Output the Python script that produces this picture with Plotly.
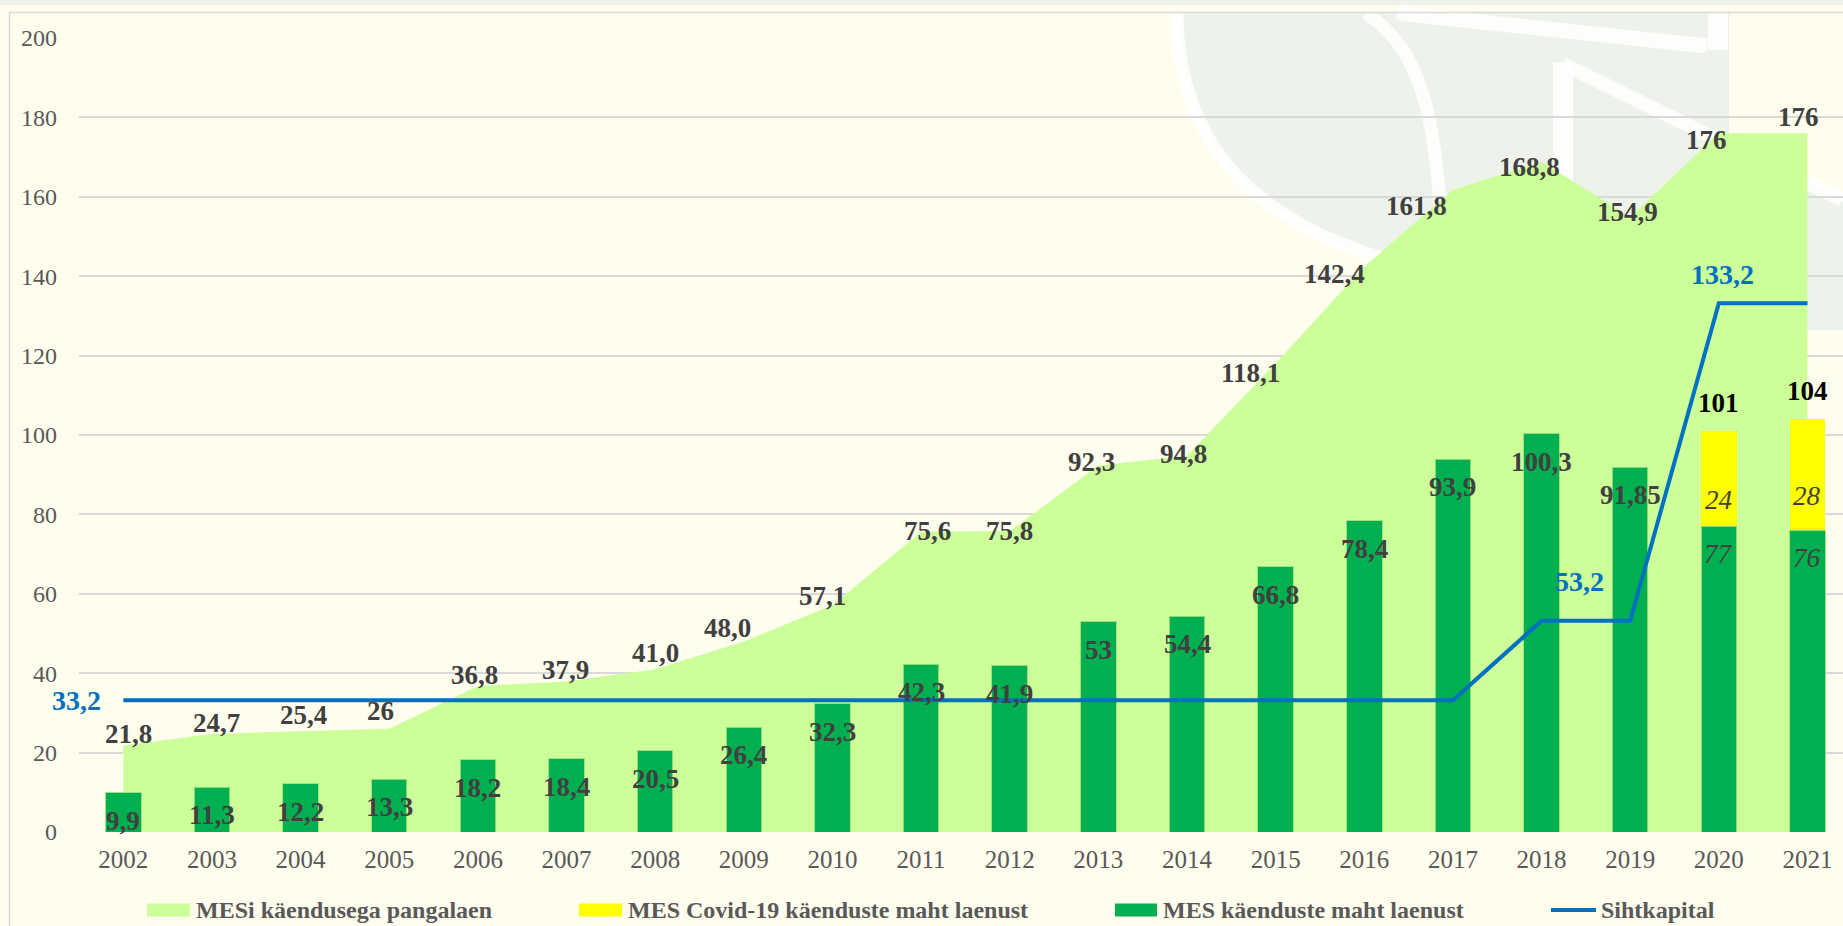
import plotly.graph_objects as go

# ---------------- data ----------------
YEARS = ["2002", "2003", "2004", "2005", "2006", "2007", "2008", "2009", "2010", "2011",
         "2012", "2013", "2014", "2015", "2016", "2017", "2018", "2019", "2020", "2021"]

PANGALAEN = [21.8, 24.7, 25.4, 26, 36.8, 37.9, 41.0, 48.0, 57.1, 75.6,
             75.8, 92.3, 94.8, 118.1, 142.4, 161.8, 168.8, 154.9, 176, 176]
PANGALAEN_LABELS = ["21,8", "24,7", "25,4", "26", "36,8", "37,9", "41,0", "48,0", "57,1", "75,6",
                    "75,8", "92,3", "94,8", "118,1", "142,4", "161,8", "168,8", "154,9", "176", "176"]

MES_LAEN = [9.9, 11.3, 12.2, 13.3, 18.2, 18.4, 20.5, 26.4, 32.3, 42.3,
            41.9, 53, 54.4, 66.8, 78.4, 93.9, 100.3, 91.85, 77, 76]
MES_LAEN_LABELS = ["9,9", "11,3", "12,2", "13,3", "18,2", "18,4", "20,5", "26,4", "32,3", "42,3",
                   "41,9", "53", "54,4", "66,8", "78,4", "93,9", "100,3", "91,85", "77", "76"]

COVID = [None] * 18 + [24, 28]
COVID_LABELS = [None] * 18 + ["24", "28"]
TOTAL_LABELS = [None] * 18 + ["101", "104"]

SIHTKAPITAL = [33.2, 33.2, 33.2, 33.2, 33.2, 33.2, 33.2, 33.2, 33.2, 33.2,
               33.2, 33.2, 33.2, 33.2, 33.2, 33.2, 53.2, 53.2, 133.2, 133.2]
SIHT_LABELS = {"2002": "33,2", "2018": "53,2", "2020": "133,2"}

Y_TICKS = [0, 20, 40, 60, 80, 100, 120, 140, 160, 180, 200]

SERIES_NAMES = ["MESi käendusega pangalaen", "MES Covid-19 käenduste maht laenust",
                "MES käenduste maht laenust", "Sihtkapital"]

# ---------------- style ----------------
W, H = 1843, 926
ML, MR, MT, MB = 79, 0, 38, 94
CREAM = "#FEFDEE"
C_AREA = "#CCFF99"
C_BAR = "#00B050"
C_COVID = "#FFFF00"
C_LINE = "#0070C0"
C_LBL = "#404040"
C_TICK = "#595959"
FONT = "Liberation Serif"
LBL_SIZE = 27

# label nudges (pixels) for the area labels, as placed in the original
AREA_DX = [5, 5, 3, -9, -3, -1, 0, -16, -10, 6, 0, -7, -4, -25, -30, -36, -12, -3, -12, -9]
AREA_DY = [11, 11, 16, 18, 11, 12, 16, 13, 9, 1, 0, 4, 2, -10, -7, -16, -5, 5, -7, 16]
SIHT_SHIFT = {"2002": (-47, 0), "2018": (38, 39), "2020": (4, 29)}

PW = W - ML - MR
PH = H - MT - MB
CAT_PX = 88.64
XR = [-0.5, -0.5 + PW / CAT_PX]


def px(x):
    return (x - ML) / PW


def py(y):
    return (H - MB - y) / PH


fig = go.Figure()

# area (base subplot, drawn beneath the bars)
fig.add_trace(go.Scatter(x=YEARS, y=PANGALAEN, name=SERIES_NAMES[0], mode="none",
                         fill="tozeroy", fillcolor=C_AREA, xaxis="x", yaxis="y",
                         showlegend=False, hoverinfo="skip"))
# bars (overlay subplot)
fig.add_trace(go.Bar(x=YEARS, y=MES_LAEN, name=SERIES_NAMES[2], marker_color=C_BAR,
                     marker_line=dict(color="rgba(150,225,120,0.9)", width=1),
                     width=0.4, xaxis="x2", yaxis="y2", showlegend=False))
fig.add_trace(go.Bar(x=YEARS, y=COVID, name=SERIES_NAMES[1], marker_color=C_COVID,
                     marker_line=dict(width=0), width=0.4, xaxis="x2", yaxis="y2",
                     showlegend=False))
fig.add_trace(go.Scatter(x=YEARS, y=SIHTKAPITAL, name=SERIES_NAMES[3], mode="lines",
                         line=dict(color=C_LINE, width=4), xaxis="x2", yaxis="y2",
                         showlegend=False))

ann = []
for i, yr in enumerate(YEARS):
    ann.append(dict(x=i, y=PANGALAEN[i], xref="x", yref="y", text=PANGALAEN_LABELS[i],
                    showarrow=False, xshift=AREA_DX[i], yshift=AREA_DY[i],
                    font=dict(family=FONT, size=LBL_SIZE, color=C_LBL, weight="bold")))
    italic = COVID[i] is not None
    ann.append(dict(x=i, y=MES_LAEN[i], xref="x", yref="y", text=MES_LAEN_LABELS[i],
                    showarrow=False, yshift=-28,
                    font=dict(family=FONT, size=LBL_SIZE, color=C_LBL,
                              weight="normal" if italic else "bold",
                              style="italic" if italic else "normal")))
    if COVID[i] is not None:
        ann.append(dict(x=i, y=MES_LAEN[i] + COVID[i] / 2, xref="x", yref="y",
                        text=COVID_LABELS[i], showarrow=False, yshift=-21,
                        font=dict(family=FONT, size=LBL_SIZE, color=C_LBL, style="italic")))
        ann.append(dict(x=i, y=MES_LAEN[i] + COVID[i], xref="x", yref="y",
                        text=TOTAL_LABELS[i], showarrow=False, yshift=28,
                        font=dict(family=FONT, size=LBL_SIZE, color="#000000", weight="bold")))
    if yr in SIHT_LABELS:
        dx, dy = SIHT_SHIFT[yr]
        ann.append(dict(x=i, y=SIHTKAPITAL[i], xref="x", yref="y", text=SIHT_LABELS[yr],
                        showarrow=False, xshift=dx, yshift=dy,
                        font=dict(family=FONT, size=LBL_SIZE + 1, color=C_LINE, weight="bold")))

# manual legend
shapes = []
LEG_Y = 910
leg = [("rect", C_AREA, 147, 190, 194),
       ("rect", C_COVID, 579, 622, 626),
       ("rect", C_BAR, 1115, 1157, 1161),
       ("line", C_LINE, 1551, 1596, 1599)]

# background decoration: top strip, frame and faint watermark
WM_FILL = "#EDF3EA"
shapes.append(dict(type="rect", xref="paper", yref="paper", x0=px(0), x1=px(W),
                   y0=py(0), y1=py(5), fillcolor="#EDF3EC", line=dict(width=0), layer="below"))
shapes.append(dict(type="path", xref="paper", yref="paper", layer="below",
                   path=(f"M {px(1180)},{py(13)} L {px(1729)},{py(13)} L {px(1729)},{py(140)} "
                         f"L {px(W)},{py(200)} L {px(W)},{py(330)} L {px(1450)},{py(330)} "
                         f"L {px(1400)},{py(268)} C {px(1260)},{py(222)} {px(1180)},{py(150)} "
                         f"{px(1180)},{py(13)} Z"),
                   fillcolor=WM_FILL, line=dict(width=0)))
WHITE = "rgba(255,255,255,0.85)"
curves = [
    ((1177, 13), (1178, 150), (1260, 224), (1395, 262)),
    ((1366, 13), (1420, 50), (1444, 110), (1444, 330)),
]
for (x0, y0), (x1, y1), (x2, y2), (x3, y3) in curves:
    shapes.append(dict(type="path", xref="paper", yref="paper", layer="below",
                       path=f"M {px(x0)},{py(y0)} C {px(x1)},{py(y1)} {px(x2)},{py(y2)} {px(x3)},{py(y3)}",
                       line=dict(color=WHITE, width=13)))
for (x0, y0, x1, y1, wd) in [(1397, 13, 1707, 46, 15), (1718, 13, 1718, 50, 20),
                             (1563, 62, 1563, 330, 20), (1563, 64, 1724, 143, 14),
                             (1724, 143, 1843, 200, 14)]:
    shapes.append(dict(type="line", xref="paper", yref="paper", layer="below",
                       x0=px(x0), y0=py(y0), x1=px(x1), y1=py(y1),
                       line=dict(color=WHITE, width=wd)))
shapes.append(dict(type="path", xref="paper", yref="paper", layer="below",
                   path=f"M {px(9.5)},{py(H + 5)} L {px(9.5)},{py(12.5)} L {px(W + 5)},{py(12.5)}",
                   line=dict(color="#D9D9D9", width=1.5)))

for (kind, col, x0, x1, tx), name in zip(leg, SERIES_NAMES):
    if kind == "rect":
        shapes.append(dict(type="rect", xref="paper", yref="paper", x0=px(x0), x1=px(x1),
                           y0=py(LEG_Y - 6.5), y1=py(LEG_Y + 6.5), fillcolor=col,
                           line=dict(width=0), layer="above"))
    else:
        shapes.append(dict(type="line", xref="paper", yref="paper", x0=px(x0), x1=px(x1),
                           y0=py(LEG_Y), y1=py(LEG_Y), line=dict(color=col, width=4),
                           layer="above"))
    ann.append(dict(x=px(tx), y=py(LEG_Y), xref="paper", yref="paper", text=name,
                    showarrow=False, xanchor="left", yanchor="middle",
                    font=dict(family=FONT, size=24, color=C_TICK, weight="bold")))

axis_common = dict(type="category", categoryarray=YEARS, categoryorder="array", range=XR)
fig.update_layout(
    width=W, height=H,
    margin=dict(l=ML, r=MR, t=MT, b=MB, pad=0),
    paper_bgcolor=CREAM, plot_bgcolor="rgba(0,0,0,0)",
    barmode="stack", bargap=0.6,
    showlegend=False,
    xaxis=dict(**axis_common, showgrid=False, zeroline=False, showline=False,
               ticks="", tickfont=dict(family=FONT, size=25, color=C_TICK),
               ticklabelstandoff=10),
    yaxis=dict(range=[0, 200], tickvals=Y_TICKS, showgrid=True, gridcolor="#D9D9D9",
               gridwidth=1.5, zeroline=False, showline=False, ticks="",
               tickfont=dict(family=FONT, size=24, color=C_TICK), ticklabelstandoff=21),
    xaxis2=dict(**axis_common, overlaying="x", visible=False),
    yaxis2=dict(range=[0, 200], overlaying="y", visible=False),
    annotations=ann,
    shapes=shapes,
)

fig.write_html("out.html", config={"displayModeBar": False},
               post_script="document.body.style.margin='0px';")
